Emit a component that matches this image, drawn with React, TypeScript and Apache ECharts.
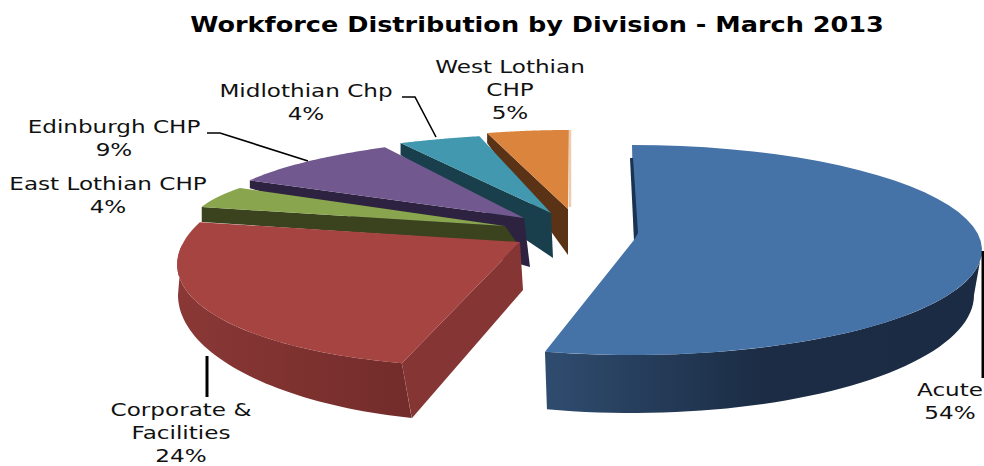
import React, { useEffect, useRef } from "react";
import * as echarts from "echarts";

const titleText = "Workforce Distribution by Division - March 2013";
const divisions = ["Acute", "Corporate & Facilities", "East Lothian CHP", "Edinburgh CHP", "Midlothian Chp", "West Lothian CHP"];
const shares = [54, 24, 4, 9, 4, 5];
const labelLines = ["Acute", "Corporate &\nFacilities", "East Lothian CHP", "Edinburgh CHP", "Midlothian Chp", "West Lothian\nCHP"];
const faceColors = ["#4572a7", "#a64442", "#89a54e", "#71588f", "#4198af", "#db843d"];
const cutColors = ["#1a3350", "#853533", "#3a421e", "#2d2240", "#1a3f4c", "#5a3216"];

// Each exploded wedge has its own projected ellipse, because the pie is drawn in perspective.
const wedgeFrames = [
  { cx: 632, cy: 250, rx: 350, ry: 105, lean: 0, apex: [634, 240], cutDrop: null,
    rim: { cx: 632, cy: 295, rx: 342, ry: 118, lean: 0, from: 90, stops: ["#1a2b43", "#1b2c44", "#2f4c6f"] } },
  { cx: 552, cy: 245, rx: 370, ry: 122, lean: 60, apex: [520, 242], cutDrop: [[3, 48], [10, 55]],
    rim: { cx: 489, cy: 295, rx: 311, ry: 127, lean: 0, to: 270, stops: ["#8a3836", "#722c2a"] } },
  { cx: 687, cy: 222, rx: 494, ry: 80, lean: 0, apex: [505, 226], cutDrop: [[12, 17], [0, 15]], rim: null },
  { cx: 581, cy: 214, rx: 366, ry: 79, lean: 0, apex: [524, 218], cutDrop: [[6, 49], [0, 8]], rim: null },
  { cx: 587, cy: 198, rx: 348, ry: 65, lean: 0, apex: [551, 213], cutDrop: [[2, 45], [0, 12]], rim: null },
  { cx: 569, cy: 193, rx: 265, ry: 63, lean: 0, apex: [568, 209], cutDrop: [[0, 46], [0, 10]], rim: null },
];

const labelAnchors = [[950, 379], [181, 399], [108, 173], [114, 116], [306, 80], [510, 56]];
const leaderPaths = [
  { width: 3, points: [[983, 251], [983, 378]] },
  { width: 3, points: [[207, 356], [207, 397]] },
  null,
  { width: 1.6, points: [[207, 133], [220, 133], [308, 161]] },
  { width: 1.6, points: [[402, 97], [415, 97], [436, 137]] },
  null,
];

const FONT = "'DejaVu Sans', Verdana, sans-serif";
const LABEL_STRETCH = 1.32;
const TITLE_STRETCH = 1.217;
const toRad = (d: number) => (d * Math.PI) / 180;

const ellipsePoint = (e: any, deg: number) => [
  e.cx + e.rx * Math.sin(toRad(deg)) + e.lean * Math.cos(toRad(deg)),
  e.cy - e.ry * Math.cos(toRad(deg)),
];

const arcPoints = (e: any, from: number, to: number) => {
  const n = 48;
  const pts: number[][] = [];
  for (let k = 0; k <= n; k++) pts.push(ellipsePoint(e, from + ((to - from) * k) / n));
  return pts;
};

function renderWedge(params: any, api: any) {
  const i = params.dataIndex;
  const total = shares.reduce((a, b) => a + b, 0);
  const before = shares.slice(0, i).reduce((a, b) => a + b, 0);
  const a0 = (before / total) * 360;
  const a1 = a0 + (api.value(0) / total) * 360;
  const f = wedgeFrames[i];
  // Wedges are stacked from the far side of the pie to the near side.
  const base = (shares.length - 1 - i) * 10;
  const children: any[] = [];

  // Cut face that shows below the wedge's leading radius.
  if (f.cutDrop) {
    const corner = ellipsePoint(f, a0);
    const [dA, dC] = f.cutDrop;
    children.push({
      type: "polygon",
      z2: base,
      shape: {
        points: [
          corner,
          f.apex,
          [f.apex[0] + dA[0], f.apex[1] + dA[1]],
          [corner[0] + dC[0], corner[1] + dC[1]],
        ],
      },
      style: { fill: cutColors[i] },
    });
  }

  // Outer rim, shaded along its length.
  if (f.rim) {
    const rimFrom = Math.max(f.rim.from ?? a0, a0);
    const rimTo = Math.min(f.rim.to ?? a1, a1);
    const upper = arcPoints(f, rimFrom, rimTo);
    const lower = arcPoints(f.rim, rimFrom, rimTo).reverse();
    const colors = f.rim.stops;
    children.push({
      type: "polygon",
      z2: base + 1,
      shape: { points: upper.concat(lower) },
      style: {
        fill: new echarts.graphic.LinearGradient(
          i === 0 ? 1 : 0, 0, i === 0 ? 0 : 1, 0,
          colors.map((c: string, k: number) => ({
            offset: colors.length === 3 ? [0, 0.5, 1][k] : k,
            color: c,
          }))
        ),
      },
    });
  }

  // Top face of the wedge.
  children.push({
    type: "polygon",
    z2: base + 2,
    shape: { points: [f.apex, ...arcPoints(f, a0, a1)] },
    style: { fill: faceColors[i] },
  });

  // Narrow dark sliver on the first wedge's opening radius.
  if (i === 0) {
    children.push({
      type: "polygon",
      z2: base + 3,
      shape: {
        points: [
          [f.apex[0] - 4, f.apex[1] - 82],
          [f.apex[0], f.apex[1]],
          [f.apex[0] + 4, f.apex[1] - 7],
          [f.apex[0] - 1, f.apex[1] - 82],
        ],
      },
      style: { fill: cutColors[0] },
    });
  }

  // Pale fringe along the closing radius of the last wedge.
  if (i === shares.length - 1) {
    const end = ellipsePoint(f, a1);
    children.push({
      type: "line",
      z2: base + 3,
      shape: { x1: end[0] + 1, y1: end[1], x2: f.apex[0] + 2, y2: f.apex[1] - 2 },
      style: { stroke: "#eeccb0", lineWidth: 2.5 },
    });
  }

  const leader = leaderPaths[i];
  if (leader) {
    children.push({
      type: "polyline",
      z2: 100,
      shape: { points: leader.points },
      style: { stroke: "#000", lineWidth: leader.width, fill: "none" },
    });
  }

  children.push({
    type: "text",
    z2: 101,
    x: labelAnchors[i][0],
    y: labelAnchors[i][1],
    scaleX: LABEL_STRETCH,
    style: {
      text: `${labelLines[i]}\n${api.value(0)}%`,
      x: 0,
      y: 0,
      align: "center",
      verticalAlign: "top",
      font: `17.5px ${FONT}`,
      lineHeight: 23,
      fill: "#111",
    },
  });

  return { type: "group", children };
}

export default function App() {
  const ref = useRef<HTMLDivElement>(null);

  useEffect(() => {
    const chart = echarts.init(ref.current!, null, { renderer: "svg" });
    chart.setOption({
      animation: false,
      backgroundColor: "#fff",
      graphic: [
        {
          type: "text",
          x: 537,
          y: 14,
          scaleX: TITLE_STRETCH,
          style: {
            text: titleText,
            x: 0,
            y: 0,
            align: "center",
            verticalAlign: "top",
            font: `bold 21px ${FONT}`,
            fill: "#000",
          },
        },
      ],
      series: [
        {
          type: "custom",
          coordinateSystem: "none",
          silent: true,
          clip: false,
          renderItem: renderWedge,
          data: divisions.map((name, i) => ({ name, value: [shares[i]] })),
        },
      ],
    });
    return () => chart.dispose();
  }, []);

  return <div ref={ref} style={{ position: "fixed", left: 0, top: 0, width: 984, height: 466 }} />;
}
